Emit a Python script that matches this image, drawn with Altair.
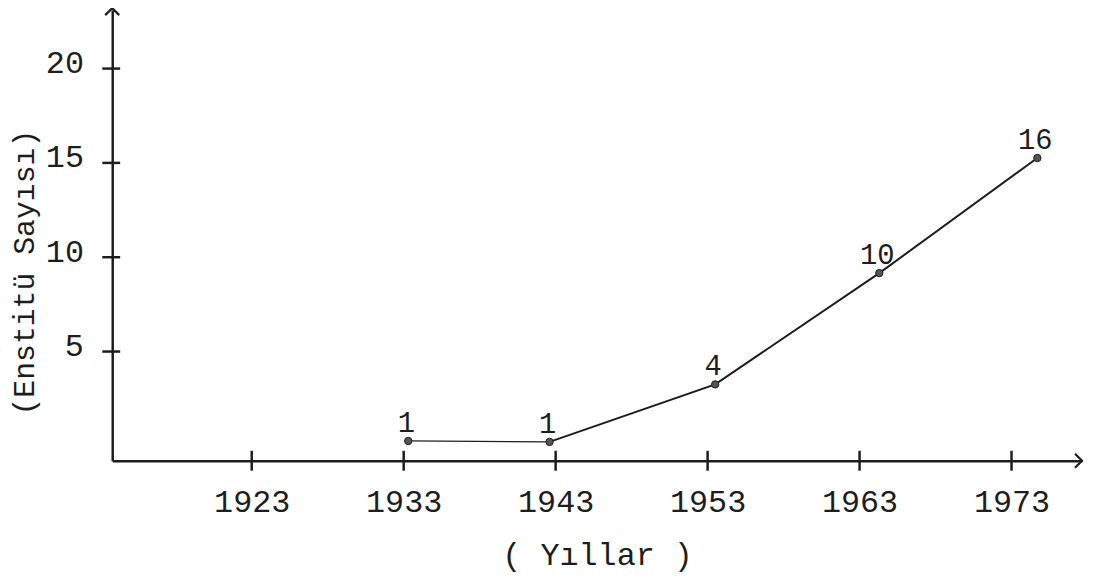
import altair as alt
import pandas as pd

# Values
years_plot = [1933.3, 1942.6, 1953.5, 1964.3, 1974.7]   # x position of each plotted point
counts_plot = [0.26, 0.21, 3.26, 9.16, 15.26]             # height of each plotted point
count_labels = ["1", "1", "4", "10", "16"]                # numbers typed above the points
x_ticks = [1923, 1933, 1943, 1953, 1963, 1973]
y_ticks = [5, 10, 15, 20]
x_domain = [1913.82, 1977.64]
y_domain = [-0.79, 23.1]

df = pd.DataFrame({"i": list(range(len(years_plot))), "year": years_plot,
                   "count": counts_plot, "label": count_labels})
xt = pd.DataFrame({"year": x_ticks})
yt = pd.DataFrame({"count": y_ticks})
one = pd.DataFrame({"k": [0]})

FONT = "Liberation Mono"
INK = "#1d1d1d"
W, H = 977, 454

xscale = alt.Scale(domain=x_domain, nice=False, zero=False)
yscale = alt.Scale(domain=y_domain, nice=False, zero=False)

xaxis = alt.Axis(values=x_ticks, format="d", grid=False, ticks=False, tickSize=0,
                 domain=True, domainColor=INK, domainWidth=2.5,
                 labelFont=FONT, labelFontSize=32, labelColor=INK, labelPadding=26,
                 labelFlush=False, labelOverlap=False,
                 title="( Yıllar )", titleFont=FONT, titleFontSize=32,
                 titleFontWeight="normal", titleColor=INK, titlePadding=23)
yaxis = alt.Axis(values=y_ticks, format="d", grid=False, ticks=False, tickSize=0,
                 domain=True, domainColor=INK, domainWidth=2.5,
                 labelFont=FONT, labelFontSize=32, labelColor=INK, labelPadding=29,
                 labelOffset=-6, labelFlush=False, labelOverlap=False,
                 title="(Enstitü Sayısı)", titleFont=FONT, titleFontSize=30,
                 titleFontWeight="normal", titleColor=INK, titleAngle=270,
                 titleX=-88, titleY=264, titleAlign="center", titleBaseline="middle")

X = alt.X("year:Q", scale=xscale, axis=xaxis)
Y = alt.Y("count:Q", scale=yscale, axis=yaxis)

base = alt.Chart(df)

line_a = base.transform_filter("datum.i <= 1").mark_line(color=INK, strokeWidth=1.3).encode(
    x=X, y=Y, order="i:Q")
line_b = base.transform_filter("datum.i >= 1").mark_line(color=INK, strokeWidth=2).encode(
    x=X, y=Y, order="i:Q")
pts = base.mark_point(filled=True, size=55, color="#555555", stroke=INK, strokeWidth=1,
                      opacity=1).encode(x=X, y=Y)
labels = base.mark_text(dy=-18, dx=-2, font=FONT, fontSize=29, color=INK,
                        baseline="middle").encode(x=X, y=Y, text="label:N")
xticks = alt.Chart(xt).mark_rule(color=INK, strokeWidth=2.5).encode(
    x=X, y=alt.value(H - 10), y2=alt.value(H + 10))
yticks = alt.Chart(yt).mark_rule(color=INK, strokeWidth=2.5).encode(
    y=Y, x=alt.value(-10), x2=alt.value(8))
arrow_x = alt.Chart(one).mark_point(shape="M-1,-1L0,0L-1,1", filled=False, size=200,
                                    color=INK, strokeWidth=2.2, opacity=1).encode(
    x=alt.value(W), y=alt.value(H))
arrow_y = alt.Chart(one).mark_point(shape="M-1,1L0,0L1,1", filled=False, size=200,
                                    color=INK, strokeWidth=2.2, opacity=1).encode(
    x=alt.value(0), y=alt.value(-2))

chart = alt.layer(line_a, line_b, xticks, yticks, pts, labels, arrow_x, arrow_y).properties(
    width=W, height=H,
    autosize=alt.AutoSizeParams(type="none"),
    padding={"left": 105, "top": 0, "right": 4, "bottom": 119},
    background="white",
).configure_view(stroke=None)

chart.save("out.html", embed_options={"renderer": "svg", "actions": False})
